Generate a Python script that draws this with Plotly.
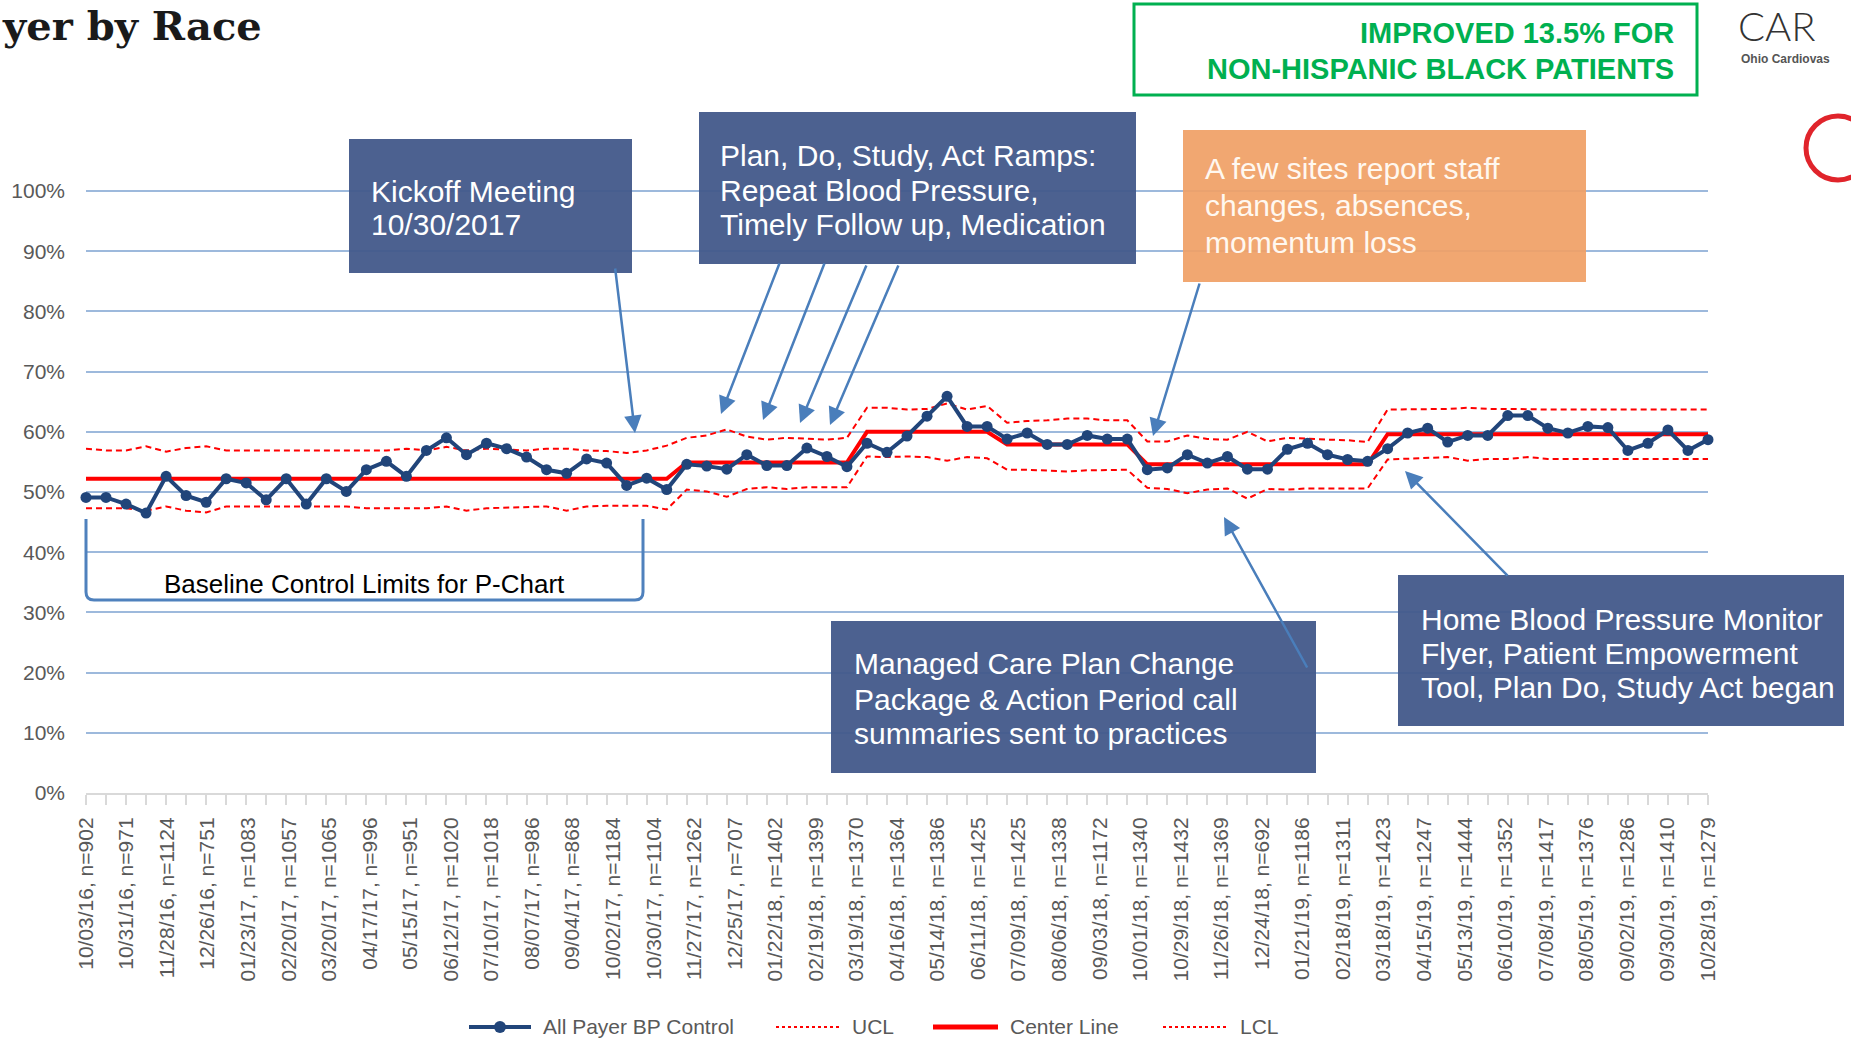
import numpy as np
import plotly.graph_objects as go

# ---------------- data ----------------
x_labels = [
    "10/03/16, n=902", "10/31/16, n=971", "11/28/16, n=1124", "12/26/16, n=751",
    "01/23/17, n=1083", "02/20/17, n=1057", "03/20/17, n=1065", "04/17/17, n=996",
    "05/15/17, n=951", "06/12/17, n=1020", "07/10/17, n=1018", "08/07/17, n=986",
    "09/04/17, n=868", "10/02/17, n=1184", "10/30/17, n=1104", "11/27/17, n=1262",
    "12/25/17, n=707", "01/22/18, n=1402", "02/19/18, n=1399", "03/19/18, n=1370",
    "04/16/18, n=1364", "05/14/18, n=1386", "06/11/18, n=1425", "07/09/18, n=1425",
    "08/06/18, n=1338", "09/03/18, n=1172", "10/01/18, n=1340", "10/29/18, n=1432",
    "11/26/18, n=1369", "12/24/18, n=692", "01/21/19, n=1186", "02/18/19, n=1311",
    "03/18/19, n=1423", "04/15/19, n=1247", "05/13/19, n=1444", "06/10/19, n=1352",
    "07/08/19, n=1417", "08/05/19, n=1376", "09/02/19, n=1286", "09/30/19, n=1410",
    "10/28/19, n=1279",
]

bp_control = [
    49.1, 49.1, 48.0, 46.5, 52.6, 49.4, 48.3, 52.2, 51.5, 48.7,
    52.2, 48.0, 52.2, 50.1, 53.7, 55.1, 52.6, 56.9, 59.0, 56.2,
    58.1, 57.2, 55.8, 53.7, 53.1, 55.5, 54.8, 51.1, 52.3, 50.4,
    54.6, 54.3, 53.8, 56.2, 54.4, 54.4, 57.3, 55.9, 54.2, 58.1,
    56.6, 59.3, 62.6, 65.9, 60.9, 60.9, 58.8, 59.8, 57.9, 57.9,
    59.4, 58.8, 58.8, 53.7, 54.0, 56.2, 54.8, 55.9, 53.8, 53.8,
    57.1, 58.1, 56.2, 55.4, 55.1, 57.2, 59.8, 60.6, 58.3, 59.4,
    59.4, 62.7, 62.7, 60.6, 59.8, 60.9, 60.7, 56.9, 58.1, 60.3,
    56.9, 58.7,
]

center_line = [
    52.2, 52.2, 52.2, 52.2, 52.2, 52.2, 52.2, 52.2, 52.2, 52.2,
    52.2, 52.2, 52.2, 52.2, 52.2, 52.2, 52.2, 52.2, 52.2, 52.2,
    52.2, 52.2, 52.2, 52.2, 52.2, 52.2, 52.2, 52.2, 52.2, 52.2,
    54.9, 54.9, 54.9, 54.9, 54.9, 54.9, 54.9, 54.9, 54.9, 60.0,
    60.0, 60.0, 60.0, 60.0, 60.0, 60.0, 57.9, 57.9, 57.9, 57.9,
    57.9, 57.9, 57.9, 54.6, 54.6, 54.6, 54.6, 54.6, 54.6, 54.6,
    54.6, 54.6, 54.6, 54.6, 54.6, 59.6, 59.6, 59.6, 59.6, 59.6,
    59.6, 59.6, 59.6, 59.6, 59.6, 59.6, 59.6, 59.6, 59.6, 59.6,
    59.6, 59.6,
]

ucl = [
    57.2, 56.9, 56.9, 57.6, 56.7, 57.3, 57.6, 56.9, 56.9, 56.9,
    56.9, 56.9, 56.9, 56.9, 56.9, 56.9, 57.2, 56.9, 57.5, 56.9,
    57.2, 57.1, 56.9, 57.2, 57.2, 56.9, 56.8, 56.5, 56.9, 57.7,
    59.0, 59.4, 60.4, 59.2, 58.7, 59.0, 58.8, 58.7, 59.0, 64.0,
    64.0, 63.7, 63.8, 64.7, 63.7, 64.3, 61.5, 61.8, 61.9, 62.2,
    62.2, 61.9, 61.9, 58.4, 58.4, 59.4, 58.8, 58.7, 60.0, 58.4,
    59.0, 58.8, 58.7, 58.6, 58.3, 63.7, 63.7, 63.7, 63.8, 64.0,
    63.8, 63.8, 63.7, 63.7, 63.7, 63.7, 63.7, 63.7, 63.7, 63.7,
    63.7, 63.7,
]

lcl = [
    47.3, 47.3, 47.3, 46.9, 47.6, 46.9, 46.6, 47.6, 47.6, 47.6,
    47.6, 47.6, 47.6, 47.6, 47.3, 47.3, 47.3, 47.3, 47.6, 46.9,
    47.3, 47.4, 47.4, 47.6, 46.9, 47.6, 47.7, 47.7, 47.7, 47.1,
    50.4, 50.1, 49.2, 50.5, 50.8, 50.5, 50.8, 50.8, 50.8, 55.9,
    55.8, 55.9, 55.8, 55.2, 55.8, 55.6, 53.7, 53.7, 53.6, 53.4,
    53.6, 53.7, 53.7, 50.7, 50.5, 49.8, 50.4, 50.6, 48.9, 50.5,
    50.4, 50.6, 50.6, 50.6, 50.6, 55.4, 55.5, 55.6, 55.8, 55.2,
    55.5, 55.5, 55.8, 55.5, 55.5, 55.5, 55.5, 55.5, 55.5, 55.5,
    55.5, 55.5,
]

y_ticks = [0, 10, 20, 30, 40, 50, 60, 70, 80, 90, 100]
series_names = ["All Payer BP Control", "UCL", "Center Line", "LCL"]

# ---------------- layout helpers ----------------
W, H = 1851, 1038
Y_TOP = 100.5
L, R, B = 86, 1708, 793
T = B - 602 * Y_TOP / 100.0


def px(x):
    return (x - L) / (R - L)


def py(y):
    return (B - y) / (B - T)


x_idx = list(range(len(bp_control)))
label_pos = list(np.linspace(0, len(bp_control) - 1, len(x_labels)))

NAVY = "#21457A"
RED = "#FF0000"
GRID = "#9DB9DC"
BOXBLUE = "#42598A"
ORANGE = "#F0A066"
ARROW = "#4A7EBB"
GREY = "#595959"
FONT = "Liberation Sans, Arial, sans-serif"

fig = go.Figure()

fig.add_trace(go.Scatter(
    x=x_idx, y=ucl, name=series_names[1], mode="lines",
    line=dict(color=RED, width=2, dash="6px,4px"), cliponaxis=False))
fig.add_trace(go.Scatter(
    x=x_idx, y=lcl, name=series_names[3], mode="lines",
    line=dict(color=RED, width=2, dash="6px,4px"), cliponaxis=False))
fig.add_trace(go.Scatter(
    x=x_idx, y=center_line, name=series_names[2], mode="lines",
    line=dict(color=RED, width=4), cliponaxis=False))
fig.add_trace(go.Scatter(
    x=x_idx, y=bp_control, name=series_names[0], mode="lines+markers",
    line=dict(color=NAVY, width=4), marker=dict(color=NAVY, size=11),
    cliponaxis=False))

fig.update_xaxes(
    range=[0, len(bp_control) - 1],
    tickmode="array", tickvals=label_pos, ticktext=x_labels,
    tickangle=-90, ticks="", ticklabelstandoff=14,
    tickfont=dict(family=FONT, size=21, color=GREY),
    showgrid=False, zeroline=False,
    showline=True, linecolor="#D9D9D9", linewidth=2,
    minor=dict(tickmode="linear", tick0=0, dtick=1, ticks="outside",
               ticklen=10, tickwidth=2, tickcolor="#D9D9D9", showgrid=False),
    automargin=False,
)
fig.update_yaxes(
    range=[0, Y_TOP], tickmode="array", tickvals=y_ticks,
    ticktext=[f"{v}%" for v in y_ticks],
    tickfont=dict(family=FONT, size=21, color=GREY), ticklabelstandoff=20,
    showgrid=True, gridcolor=GRID, gridwidth=2,
    zeroline=False, showline=False, ticks="", automargin=False,
)

shapes = []
annotations = []


def box(x0, y0, x1, y1, color, opacity=0.95):
    shapes.append(dict(type="rect", xref="paper", yref="paper",
                       x0=px(x0), x1=px(x1), y0=py(y1), y1=py(y0),
                       fillcolor=color, line=dict(width=0), opacity=opacity,
                       layer="above"))


def text_lines(lines, left, mids, size=30, color="white", family=FONT, bold=False,
               anchor="left"):
    for t, m in zip(lines, mids):
        annotations.append(dict(
            text=f"<b>{t}</b>" if bold else t, xref="paper", yref="paper",
            x=px(left), y=py(m), xanchor=anchor, yanchor="middle",
            showarrow=False, font=dict(family=family, size=size, color=color)))


def arrow(sx, sy, tx, ty):
    annotations.append(dict(
        text="", xref="paper", yref="paper", x=px(tx), y=py(ty),
        axref="pixel", ayref="pixel", ax=sx - tx, ay=sy - ty,
        showarrow=True, arrowhead=2, arrowsize=1.4, arrowwidth=2.5,
        arrowcolor=ARROW, standoff=0))


# Kickoff box
box(349, 139, 632, 273, BOXBLUE)
text_lines(["Kickoff Meeting", "10/30/2017"], 369, [191, 224])
# Plan Do Study Act box
box(699, 112, 1136, 264, BOXBLUE)
text_lines(["Plan, Do, Study, Act Ramps:", "Repeat Blood Pressure,",
            "Timely Follow up, Medication"], 718, [155, 190, 224])
# Orange box
box(1183, 130, 1586, 282, ORANGE, opacity=0.93)
text_lines(["A few sites report staff", "changes, absences,", "momentum loss"],
           1203, [168, 205, 242], color="#FFF8F0")
# Managed care box
box(831, 621, 1316, 773, BOXBLUE)
text_lines(["Managed Care Plan Change", "Package & Action Period call",
            "summaries sent to practices"], 852, [663, 699, 733])
# Home BP box
box(1398, 575, 1844, 726, BOXBLUE)
text_lines(["Home Blood Pressure Monitor", "Flyer, Patient Empowerment",
            "Tool, Plan Do, Study Act began"], 1419, [619, 653, 687])

# Arrows
arrow(615, 267, 635, 433)
arrow(780, 262, 721, 414)
arrow(825, 262, 763, 420)
arrow(867, 264, 800, 423)
arrow(899, 264, 830, 425)
arrow(1200, 282, 1153, 436)
arrow(1308, 669, 1224, 517)
arrow(1509, 577, 1405, 471)

# Bracket for baseline limits
xl, xr, yt, yb, r = 86, 643, 519, 600, 8
path = (f"M {px(xl)},{py(yt)} L {px(xl)},{py(yb - r)} "
        f"Q {px(xl)},{py(yb)} {px(xl + r)},{py(yb)} "
        f"L {px(xr - r)},{py(yb)} Q {px(xr)},{py(yb)} {px(xr)},{py(yb - r)} "
        f"L {px(xr)},{py(yt)}")
shapes.append(dict(type="path", xref="paper", yref="paper", path=path,
                   line=dict(color="#4F81BD", width=3), layer="above"))
annotations.append(dict(text="Baseline Control Limits for P-Chart", xref="paper",
                        yref="paper", x=px(364), y=py(584), xanchor="center",
                        yanchor="middle", showarrow=False,
                        font=dict(family=FONT, size=26, color="#000000")))

# Green summary box
shapes.append(dict(type="rect", xref="paper", yref="paper",
                   x0=px(1134), x1=px(1697), y0=py(95), y1=py(4),
                   line=dict(color="#00B050", width=3), fillcolor="rgba(0,0,0,0)",
                   layer="above"))
text_lines(["IMPROVED 13.5% FOR", "NON-HISPANIC BLACK PATIENTS"], 1676, [33, 69],
           size=29, color="#00B050", bold=True, anchor="right")

# Title fragment
annotations.append(dict(text="<b>yer by Race</b>", xref="paper", yref="paper",
                        x=px(0), y=py(0), xanchor="left", yanchor="top",
                        showarrow=False,
                        font=dict(family="DejaVu Serif, serif", size=40, color="#1A1A1A")))
# Logo fragment
annotations.append(dict(text="CAR", xref="paper", yref="paper",
                        x=px(1736), y=py(0), xanchor="left", yanchor="top",
                        showarrow=False,
                        font=dict(family="Lato, sans-serif", size=40, color="#333333",
                                  weight=300)))
annotations.append(dict(text="<b>Ohio Cardiovas</b>", xref="paper", yref="paper",
                        x=px(1739), y=py(59), xanchor="left", yanchor="middle",
                        showarrow=False,
                        font=dict(family=FONT, size=12, color="#555555")))
shapes.append(dict(type="circle", xref="paper", yref="paper",
                   x0=px(1806), x1=px(1870), y0=py(180), y1=py(116),
                   line=dict(color="#E0242B", width=5), layer="above"))

# Manual legend (matches the reference's wide spacing)
LEG_Y = 1027
leg_items = [
    (series_names[0], 469, 531, dict(color=NAVY, width=4, dash="solid"), True),
    (series_names[1], 776, 840, dict(color=RED, width=2, dash="dot"), False),
    (series_names[2], 933, 998, dict(color=RED, width=5, dash="solid"), False),
    (series_names[3], 1163, 1228, dict(color=RED, width=2, dash="dot"), False),
]
for name, x0, x1, ln, has_marker in leg_items:
    shapes.append(dict(type="line", xref="paper", yref="paper",
                       x0=px(x0), x1=px(x1), y0=py(LEG_Y), y1=py(LEG_Y), line=ln,
                       layer="above"))
    if has_marker:
        cx = (x0 + x1) / 2
        shapes.append(dict(type="circle", xref="paper", yref="paper",
                           x0=px(cx - 6), x1=px(cx + 6), y0=py(LEG_Y + 6),
                           y1=py(LEG_Y - 6), fillcolor=NAVY, line=dict(width=0),
                           layer="above"))
    annotations.append(dict(text=name, xref="paper", yref="paper",
                            x=px(x1 + 10), y=py(LEG_Y), xanchor="left",
                            yanchor="middle", showarrow=False,
                            font=dict(family=FONT, size=21, color=GREY)))

fig.update_layout(
    width=W, height=H,
    margin=dict(l=L, r=W - R, t=T, b=H - B, autoexpand=False),
    paper_bgcolor="white", plot_bgcolor="white",
    shapes=shapes, annotations=annotations,
    showlegend=False,
    font=dict(family=FONT),
)

fig.write_html("out.html", config={"displayModeBar": False},
               post_script="document.body.style.margin='0';")
